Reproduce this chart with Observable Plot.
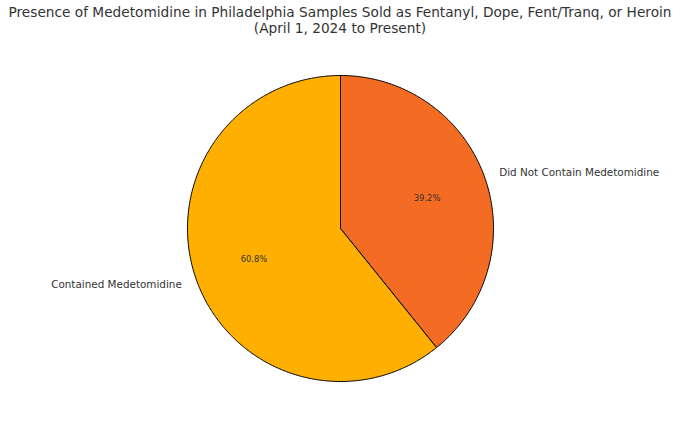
<!DOCTYPE html>
<html>
<head>
<meta charset="utf-8">
<script src="https://cdn.jsdelivr.net/npm/d3@7"></script>
<script src="https://cdn.jsdelivr.net/npm/@observablehq/plot@0.6"></script>
<style>
  html, body { margin: 0; padding: 0; background: #fff; }
  body { width: 680px; height: 425px; overflow: hidden; font-family: "DejaVu Sans", sans-serif; }
  #title { text-align: center; color: #333; font-size: 13.7px; line-height: 15.5px; padding-top: 5px; height: 33px; box-sizing: border-box; white-space: nowrap; }
</style>
</head>
<body>
<div id="title">Presence of Medetomidine in Philadelphia Samples Sold as Fentanyl, Dope, Fent/Tranq, or Heroin<br>(April 1, 2024 to Present)</div>
<div id="chart"></div>
<script>
const categories = ["Did Not Contain Medetomidine", "Contained Medetomidine"];
const values = [39.2, 60.8];
const colors = ["#F46B23", "#FFAF00"];

const total = d3.sum(values);
// slices go clockwise starting at 12 o'clock; angle measured clockwise from top
let acc = 0;
const slices = categories.map((c, i) => {
  const a0 = acc / total * 2 * Math.PI;
  acc += values[i];
  const a1 = acc / total * 2 * Math.PI;
  return {category: c, value: values[i], color: colors[i], a0, a1, mid: (a0 + a1) / 2};
});

const outline = [];
for (const s of slices) {
  const n = Math.max(2, Math.ceil((s.a1 - s.a0) / 0.01));
  outline.push({category: s.category, color: s.color, x: 0, y: 0});
  for (let k = 0; k <= n; k++) {
    const a = s.a0 + (s.a1 - s.a0) * k / n;
    outline.push({category: s.category, color: s.color, x: Math.sin(a), y: Math.cos(a)});
  }
  outline.push({category: s.category, color: s.color, x: 0, y: 0});
}

const pctLabels = slices.map(s => ({x: 0.6 * Math.sin(s.mid), y: 0.6 * Math.cos(s.mid), text: s.value.toFixed(1) + "%"}));
const catLabels = slices.map(s => ({x: 1.1 * Math.sin(s.mid), y: 1.1 * Math.cos(s.mid), text: s.category, anchor: Math.sin(s.mid) >= 0 ? "start" : "end"}));

const W = 680, H = 392, R = 153, cx = 340, cy = 195;
const chart = Plot.plot({
  width: W,
  height: H,
  margin: 0,
  x: {domain: [-cx / R, (W - cx) / R], range: [0, W], axis: null},
  y: {domain: [-(H - cy) / R, cy / R], range: [H, 0], axis: null},
  style: {fontFamily: "DejaVu Sans, sans-serif", background: "#fff"},
  marks: [
    Plot.line(outline, {x: "x", y: "y", z: "category", fill: "color", stroke: "#000", strokeWidth: 1, strokeLinejoin: "round", curve: "linear"}),
    Plot.text(pctLabels, {x: "x", y: "y", text: "text", fontSize: 8.4, fill: "#333"}),
    Plot.text(catLabels.filter(d => d.anchor === "start"), {x: "x", y: "y", text: "text", textAnchor: "start", fontSize: 10.4, fill: "#333"}),
    Plot.text(catLabels.filter(d => d.anchor === "end"), {x: "x", y: "y", text: "text", textAnchor: "end", fontSize: 10.4, fill: "#333"})
  ]
});
document.getElementById("chart").appendChild(chart);
</script>
</body>
</html>
